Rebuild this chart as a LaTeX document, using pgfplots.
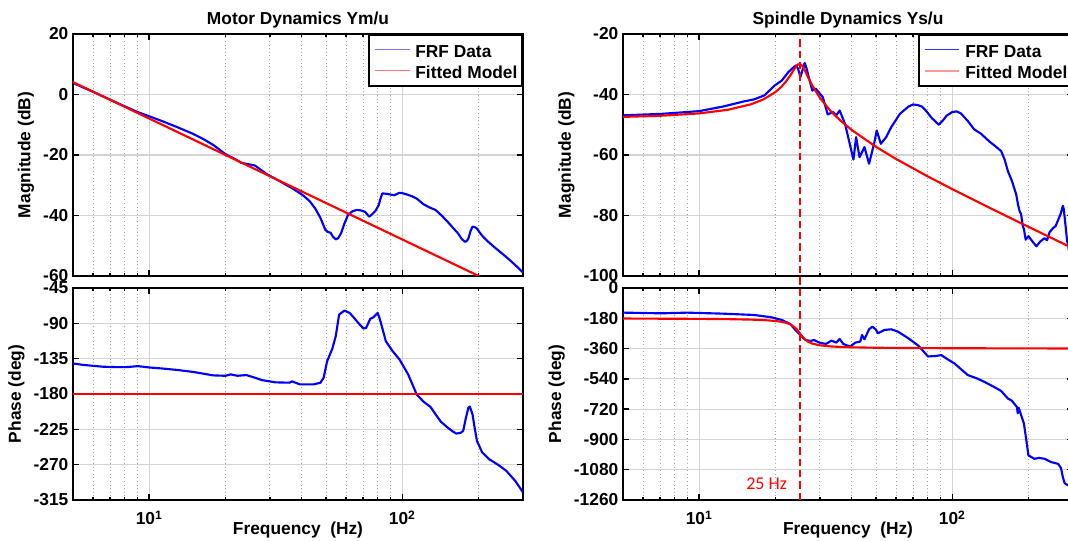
\documentclass[border=0pt]{standalone}
\usepackage{pgfplots}
\pgfplotsset{compat=1.18}
\usepackage{fontspec}
\setmainfont{Liberation Sans}
\newfontfamily\calibri{Carlito}

\definecolor{gridmaj}{RGB}{212,212,212}
\definecolor{gridmin}{RGB}{165,165,165}
\definecolor{frfblue}{RGB}{0,0,255}
\definecolor{fitred}{RGB}{255,0,0}

\newcommand{\lblfont}{\bfseries\fontsize{13}{15}\selectfont}

\tikzset{
  frfline/.style={draw=frfblue, line width=1.6pt, line join=round},
  fitline/.style={draw=fitred, line width=1.6pt, line join=round},
}

\pgfplotsset{
  % short thin legend samples with a small gap before the text
  legend image code/.code={
    \path (0pt,0pt);
    \draw[#1] (1.5pt,0pt) -- (27.5pt,0pt);
    \path (30.5pt,0pt);
  },
  every axis/.append style={
    xmode=log, xmin=5, xmax=300,
    scale only axis, width=337.5pt,
    axis line style={line width=1.5pt},
    tick style={black, line width=1.1pt},
    major tick length=4.5pt, minor tick length=2.5pt,
    tick align=inside,
    xmajorgrids, xminorgrids, ymajorgrids,
    major grid style={gridmaj, line width=0.9pt},
    minor grid style={gridmin, line width=0.7pt, dotted},
    xtick={10,100},
    minor xtick={6,7,8,9,20,30,40,50,60,70,80,90,200,300},
    tick label style={font=\lblfont},
    label style={font=\lblfont},
    title style={font=\lblfont, yshift=-5pt},
    legend style={
      at={(1,1)}, anchor=north east,
      draw=black, line width=1.4pt, fill=white,
      font=\lblfont,
      inner xsep=2.5pt, inner ysep=3.5pt,
      nodes={inner sep=1pt, text height=12.5pt, text depth=0.5pt},
      row sep=1pt,
    },
    legend cell align=left,
  },
}

\begin{document}
\begin{tikzpicture}[font=\lblfont]
\useasboundingbox (0,0) rectangle (801pt,405.75pt);

% ---------------- Motor: magnitude ----------------
\begin{axis}[height=181.5pt, xticklabels={},
  at={(54.75pt,198.75pt)}, anchor=south west,
  ymin=-60, ymax=20, ytick={-60,-40,-20,0,20},
  yticklabels={-60,-40,-20,0,20},
  ylabel={Magnitude (dB)}, title={Motor Dynamics Ym/u}]
\addlegendimage{draw=frfblue!55, line width=0.7pt}
\addlegendentry{\textbf{FRF Data}}
\addlegendimage{draw=fitred!55, line width=0.7pt}
\addlegendentry{\textbf{Fitted Model}}
\addplot[frfline, forget plot] coordinates {
(5,3.8) (6,0.9) (7,-1.7) (8,-3.9) (9,-5.8) (10,-7.2) (11.5,-9.1) (13,-10.9)
(14.9,-13.0) (16.5,-14.9) (18,-16.8) (20,-19.7) (22,-21.5) (23.1,-22.6)
(24.5,-23.0) (26.2,-23.5) (27.5,-24.8) (29,-26.2) (30.6,-27.3) (33,-28.8)
(36.9,-31.1) (40.5,-33.3) (43,-35.2) (45.3,-37.7) (47.5,-40.8) (49.7,-44.8)
(51,-45.5) (52.1,-45.7) (53.2,-47.0) (54.6,-47.9) (55.8,-47.5) (57.3,-45.9)
(59,-42.8) (61,-39.9) (63.5,-38.6) (65.9,-38.2) (68.5,-38.3) (71.3,-38.8)
(74,-40.4) (76,-39.6) (78.3,-38.5) (80.7,-36.6) (82,-34.5) (83.4,-32.7)
(86,-32.8) (88.8,-33.0) (93,-33.3) (97.5,-32.5) (100,-32.6) (103.8,-33.0)
(109,-33.6) (114,-34.4) (121.4,-36.3) (128,-37.3) (135.5,-38.2) (143,-40.0)
(151.2,-42.1) (158,-43.9) (166.1,-45.9) (172,-47.8) (177,-48.7) (180,-48.4)
(182.5,-47.6) (186,-45.2) (189.5,-43.7) (193,-43.8) (197.3,-44.3) (203,-45.8)
(210,-47.3) (220,-48.9) (234.4,-50.9) (250,-52.8) (265.7,-54.7) (283,-56.8)
(300,-58.9)};
\addplot[fitline, forget plot] coordinates {(5,4.1) (300,-67.0)};
\end{axis}

% ---------------- Motor: phase ----------------
\begin{axis}[height=159pt,
  xticklabels={10\textsuperscript{1},10\textsuperscript{2}},
  xticklabel style={yshift=-4.5pt},
  xlabel={Frequency\ \ (Hz)},
  xlabel style={at={(axis description cs:0.5,0)}, anchor=north, yshift=-13pt},
  at={(54.75pt,30.75pt)}, anchor=south west,
  ymin=-315, ymax=-45, ytick={-315,-270,-225,-180,-135,-90,-45},
  yticklabels={-315,-270,-225,-180,-135,-90,-45},
  ylabel={Phase (deg)}]
\addplot[frfline] coordinates {
(5,-141.1) (5.5,-143) (6.59,-145.3) (7.5,-145.8) (8.2,-145.7) (9.02,-144.5)
(10,-146.2) (11.5,-147.8) (13.1,-149.6) (15,-152) (17.9,-156.3) (20,-156.8)
(21,-155) (22.3,-156.8) (24.2,-155.9) (26.2,-159.3) (27.9,-162.3) (31.6,-165.2)
(35.8,-165.6) (36.7,-163.9) (39.4,-167.8) (44.6,-167.8) (47.5,-165.6)
(48.9,-159.3) (50.5,-138.1) (52.9,-122.5) (54.6,-106.4) (56.3,-78.9)
(59.1,-73.8) (61.9,-76.7) (64.5,-83) (67,-89.4) (70.2,-96.6) (72,-95.8)
(74.7,-84.4) (76.9,-82.3) (80,-76.7) (82,-87.3) (86.1,-112.7) (91.6,-125.4)
(97.5,-136) (105.5,-155) (114,-180.5) (121.4,-189.8) (129.3,-196.5)
(135.5,-206) (142,-215.2) (151.2,-222.8) (158,-227.5) (163.6,-230.4)
(170,-229.5) (174.1,-227) (178,-212) (182.5,-197.4) (185,-196) (189.5,-205.9)
(193,-222) (197.3,-239.7) (207,-254.5) (220.4,-263) (240,-270.5)
(257.6,-277.8) (280,-291) (300,-305.3)};
\addplot[fitline] coordinates {(5,-180) (300,-180)};
\end{axis}

% ---------------- Spindle: magnitude ----------------
\begin{axis}[height=181.5pt, xticklabels={},
  at={(467.25pt,198.75pt)}, anchor=south west,
  ymin=-100, ymax=-20, ytick={-100,-80,-60,-40,-20},
  yticklabels={-100,-80,-60,-40,-20},
  ylabel={Magnitude (dB)}, title={Spindle Dynamics Ys/u}]
\addlegendimage{draw=frfblue!80, line width=0.7pt}
\addlegendentry{\textbf{FRF Data}}
\addlegendimage{draw=fitred!40, line width=0.9pt}
\addlegendentry{\textbf{Fitted Model}}
\addplot[frfline, forget plot] coordinates {
(5,-46.9) (7.1,-46.4) (10,-45.5) (12.4,-44.0) (15,-42.3) (16.5,-41.6)
(18.1,-40.3) (19.9,-37.0) (21.2,-35.4) (22.5,-32.6) (23.6,-31.0) (24.1,-30.4)
(24.6,-31.5) (25.1,-34.3) (25.6,-32) (26.1,-29.6) (26.6,-31.5) (27.1,-34.3)
(28.0,-38.7) (28.9,-38.1) (30.8,-40.9) (32.2,-46.6) (33.8,-45.8) (34.8,-46.9)
(35.9,-45.3) (37.7,-49.7) (38.8,-54.1) (40.7,-61.5) (41.7,-54.1) (43.0,-60.7)
(45.0,-57.4) (46.9,-62.9) (49.1,-56.3) (50.3,-51.9) (52.2,-56.3) (54.8,-54.1)
(57.4,-50.8) (62.1,-46.4) (67.1,-44.0) (70,-43.3) (73,-43.5) (76,-44.0)
(79,-45.5) (83,-47.8) (88.5,-50.0) (92,-48.5) (95,-47.0) (100,-45.8)
(104,-45.6) (108,-46.2) (115.3,-48.8) (122,-51.5) (130,-53.0) (140,-55.5)
(147,-56.9) (156,-58.7) (161,-61.5) (166,-65.4) (172,-68.5) (179,-73.1)
(182,-76.5) (184.6,-78.6) (187,-79.5) (190,-83.5) (192,-84.5) (195,-88.0)
(200,-86.8) (207,-88.5) (215,-90.2) (222,-88.7) (231.6,-87.5) (237,-88.2)
(242.5,-85.5) (250,-84.2) (256,-83.5) (262,-81.5) (268,-79.5) (273.6,-76.8)
(276,-78) (280,-83) (284,-88) (289,-91.4) (295,-93)};
\addplot[fitline, forget plot] coordinates {
(5,-47.40) (7,-47.05) (10,-46.25) (13,-45.05) (16,-43.26) (18,-41.56)
(20,-39.21) (21,-37.67) (22,-35.78) (23,-33.49) (24,-31.02) (24.5,-30.13)
(25,-29.89) (25.5,-30.46) (26,-31.62) (27,-34.45) (28,-37.06) (30,-41.12)
(33,-45.38) (36,-48.49) (40,-51.69) (50,-57.32) (60,-61.32) (80,-67.07)
(100,-71.28) (130,-76.07) (160,-79.78) (200,-83.74) (250,-87.66) (300,-90.86)};
\end{axis}

% ---------------- Spindle: phase ----------------
\begin{axis}[height=159pt,
  xticklabels={10\textsuperscript{1},10\textsuperscript{2}},
  xticklabel style={yshift=-4.5pt},
  xlabel={Frequency\ \ (Hz)},
  xlabel style={at={(axis description cs:0.5,0)}, anchor=north, yshift=-13pt},
  at={(467.25pt,30.75pt)}, anchor=south west,
  ymin=-1260, ymax=0, ytick={-1260,-1080,-900,-720,-540,-360,-180,0},
  yticklabels={-1260,-1080,-900,-720,-540,-360,-180,0},
  ylabel={Phase (deg)}, clip=false]
\addplot[frfline] coordinates {
(5,-146.5) (7.1,-150.5) (8.97,-146.5) (12.4,-152.5) (16.5,-160.4) (19.3,-174.2)
(21.2,-190) (22.9,-213.8) (24.0,-249.5) (25.1,-279.2) (26.3,-308.9)
(27.6,-314.8) (28.4,-308.9) (29.8,-324.7) (31.7,-332.6) (33.3,-312.8)
(34.8,-324.7) (35.9,-302.9) (37.1,-332.6) (39.5,-348.5) (41.4,-324.7)
(43.3,-318.8) (44.0,-279.2) (45.0,-304.9) (46.9,-245.5) (48.3,-229.7)
(49.8,-245.5) (50.9,-269.3) (53.9,-249.5) (57.4,-245.5) (61.0,-259.4)
(67.1,-299.0) (73.7,-344.5) (80.2,-407) (86.0,-404) (90.5,-399) (95,-420)
(102,-448.5) (115.3,-518) (125,-537) (134,-558) (145,-585) (156,-612)
(166,-657) (172,-670) (180,-707) (181.5,-745) (183,-712) (192,-806)
(196,-900) (200,-995) (211,-1015) (220,-1010) (231.6,-1015) (246,-1035)
(262,-1045) (269,-1071) (273.6,-1125) (278,-1160) (283,-1168) (300,-1180)};
\addplot[fitline] coordinates {
(5,-181.5) (10,-183.5) (13,-185.2) (16,-187.9) (18,-190.8) (20,-195.9)
(21,-200.1) (22,-206.5) (23,-217.5) (24,-237.5) (24.5,-252.5) (25,-270)
(25.5,-287.2) (26,-301.5) (27,-320.3) (28,-330.6) (30,-340.7) (33,-347.2)
(36,-350.3) (40,-352.5) (50,-355.1) (60,-356.3) (80,-357.5) (100,-358.0)
(150,-358.7) (200,-359.1) (300,-359.4)};
% resonance marker at 25 Hz, running up through the magnitude panel
\addplot[draw=fitred, line width=1.5pt, dash pattern=on 5.5pt off 3pt]
  coordinates {(25,-1260) (25,1509.6)};
\node[anchor=east, text=fitred, font=\calibri\fontsize{13.5}{16}\selectfont,
  inner sep=0pt, xshift=-9.5pt] at (axis cs:25,-1162) {25 Hz};
\end{axis}
\end{tikzpicture}
\end{document}
